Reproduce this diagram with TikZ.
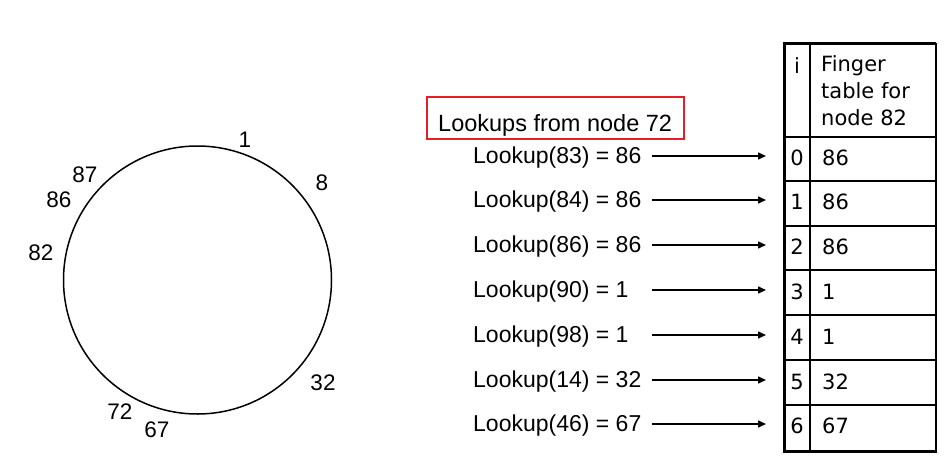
\documentclass[tikz,border=0pt]{standalone}
\usepackage{fontspec}
\setmainfont{Liberation Sans}
\newfontfamily\tabfont{DejaVu Sans}
\usetikzlibrary{arrows.meta}
\definecolor{boxred}{RGB}{230,30,40}
\begin{document}
\begin{tikzpicture}[x=1pt,y=-1pt,
  lbl/.style={font=\fontsize{22.5}{26}\selectfont, inner sep=0pt},
  lk/.style={font=\fontsize{23}{26}\selectfont, inner sep=0pt, anchor=west},
  tb/.style={font=\tabfont\fontsize{21}{27}\selectfont, inner sep=0pt},
  arr/.style={line width=1.5pt, -{Triangle[length=8pt,width=7pt]}},
  thin/.style={line width=1.2pt},
  thick border/.style={line width=3pt}]
\useasboundingbox (0,0) rectangle (947,463);
% ring
\node[draw, line width=1.5pt, circle, minimum size=268pt, inner sep=0pt] (ring) at (197.5,280) {};
\node[lbl] (n1) at (245,140) {1};
\node[lbl] (n8) at (322,183) {8};
\node[lbl] (n87) at (85,175) {87};
\node[lbl] (n86) at (59,200) {86};
\node[lbl] (n82) at (41,253) {82};
\node[lbl] (n32) at (323,383) {32};
\node[lbl] (n72) at (120,412) {72};
\node[lbl] (n67) at (157,430) {67};
% title box
\node[draw=boxred, line width=2.5pt, minimum width=257pt, minimum height=42pt, inner sep=0pt] (title) at (555.5,118) {};
\node[lk, font=\fontsize{23.5}{27}\selectfont] (titletext) at (438,125) {Lookups from node 72};
% table
\coordinate (tl) at (784,43);
\coordinate (br) at (936,450);
\draw[thin] (810,43) -- (810,450);
\foreach \y in {137,181,226,270,315,360,405} {\draw[thin] (784,\y) -- (936,\y);}
\draw[line width=2pt] (936,43) -- (936,450);
\draw[thick border] (tl) -- (936,43);
\draw[thick border] (784,41.5) -- (784,451.5) -- (937,451.5);
\node[tb] (hi) at (797,66) {i};
\node[tb, anchor=north west, align=left] (hf) at (821,55) {Finger\\table for\\node 82};
\foreach \i/\v/\y in {0/86/158,1/86/202,2/86/247,3/1/292,4/1/337,5/32/382,6/67/426} {
  \node[tb] (r\i) at (797,\y) {\i};
  \node[tb, anchor=west] (v\i) at (822,\y) {\v};
}
% lookups
\foreach \k/\t/\y in {0/Lookup(83) = 86/158,1/Lookup(84) = 86/202,2/Lookup(86) = 86/247,3/Lookup(90) = 1/292,4/Lookup(98) = 1/337,5/Lookup(14) = 32/382,6/Lookup(46) = 67/426} {
  \node[lk] (l\k) at (473,\y) {\t};
  \coordinate (s\k) at (652,\y-2);
  \coordinate (e\k) at (766,\y-2);
  \draw[arr] (s\k) -- (e\k);
}
\end{tikzpicture}
\end{document}
